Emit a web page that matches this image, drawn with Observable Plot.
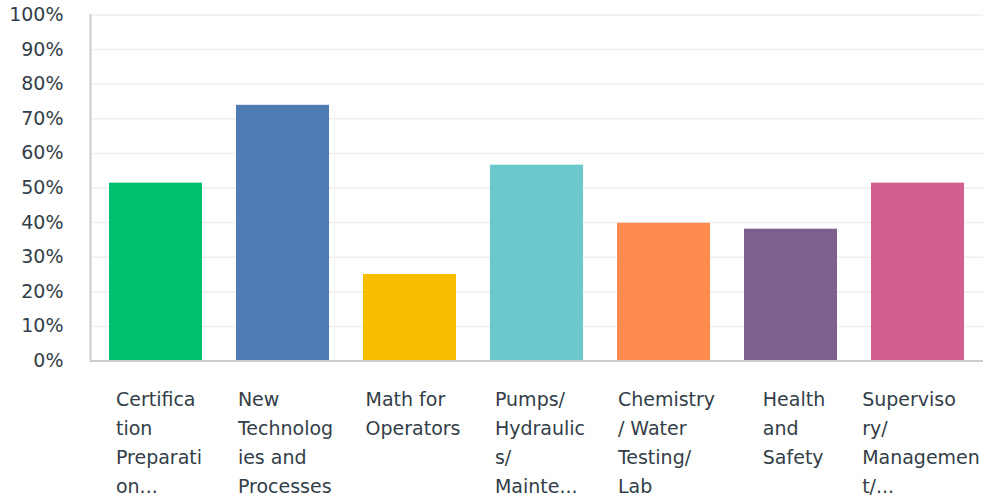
<!DOCTYPE html>
<html>
<head>
<meta charset="utf-8">
<script src="https://cdn.jsdelivr.net/npm/d3@7"></script>
<script src="https://cdn.jsdelivr.net/npm/@observablehq/plot@0.6"></script>
<style>
  html, body { margin: 0; padding: 0; background: #fff; }
  #chart { width: 984px; height: 499px; }
</style>
</head>
<body>
<div id="chart"></div>
<script>
const categories = [
  "Certification Preparation",
  "New Technologies and Processes",
  "Math for Operators",
  "Pumps/Hydraulics/Maintenance",
  "Chemistry / Water Testing/ Lab",
  "Health and Safety",
  "Supervisory/Management"
];
const tickLines = [
  ["Certifica", "tion", "Preparati", "on..."],
  ["New", "Technolog", "ies and", "Processes"],
  ["Math for", "Operators"],
  ["Pumps/", "Hydraulic", "s/", "Mainte..."],
  ["Chemistry", "/ Water", "Testing/", "Lab"],
  ["Health", "and", "Safety"],
  ["Superviso", "ry/", "Managemen", "t/..."]
];
const values = [51.4, 73.9, 25.0, 56.6, 39.8, 38.1, 51.4];
const colors = ["#00bf6f", "#507cb6", "#f9be00", "#6bc8cd", "#ff8b4f", "#7f5f90", "#d25f90"];
const yTicks = [0, 10, 20, 30, 40, 50, 60, 70, 80, 90, 100];

const data = categories.map((c, i) => ({category: c, value: values[i], color: colors[i]}));
const labelOf = new Map(categories.map((c, i) => [c, tickLines[i].join("\n")]));

const font = "'DejaVu Sans', sans-serif";
const textColor = "#333e48";

const chart = Plot.plot({
  width: 984,
  height: 499,
  marginTop: 14.5,
  marginBottom: 138.5,
  marginLeft: 90,
  marginRight: 1,
  style: {fontFamily: font, background: "#fff"},
  x: {domain: categories, paddingInner: 0.27, paddingOuter: 0.15},
  y: {domain: [0, 100]},
  marks: [
    Plot.gridY(yTicks, {stroke: "#eeeeee", strokeOpacity: 1, strokeWidth: 1.5}),
    Plot.barY(data, {x: "category", y: "value", fill: "color"}),
    Plot.ruleY([0], {stroke: "#cccccc", strokeWidth: 2}),
    Plot.frame({anchor: "left", stroke: "#cccccc", strokeWidth: 2}),
    Plot.axisY(yTicks, {
      tickSize: 0, tickPadding: 27, tickFormat: d => d + "%",
      fontSize: 19, fill: textColor, label: null
    }),
    Plot.axisX({
      tickSize: 0, tickPadding: 24, tickFormat: d => labelOf.get(d),
      fontSize: 19, fill: textColor, textAnchor: "start", lineAnchor: "top",
      lineHeight: 1.53, label: null
    })
  ]
});

document.getElementById("chart").appendChild(chart);

// Center each multi-line label block under its bar, keeping lines left-aligned
chart.querySelectorAll('g[aria-label="x-axis tick label"] text').forEach(t => {
  const w = t.getBBox().width;
  const tr = t.getAttribute("transform") || "";
  t.setAttribute("transform", tr + ` translate(${-w / 2 + 3},0)`);
});
</script>
</body>
</html>
